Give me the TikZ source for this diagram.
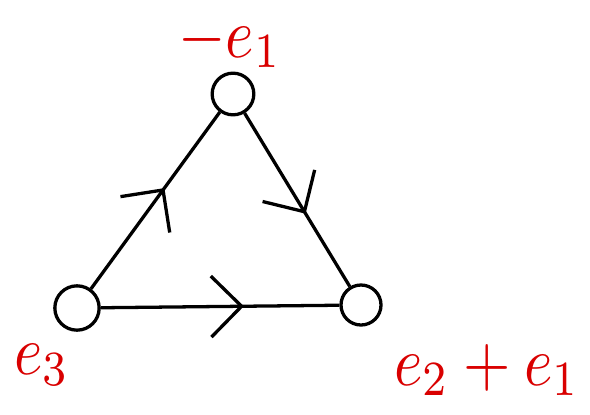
\documentclass[tikz,border=0pt]{standalone}
\usepackage{graphicx}
\usetikzlibrary{arrows.meta,decorations.markings}
\tikzset{
  vert/.style={draw, circle, line width=2.8pt, minimum size=1.25cm, inner sep=0pt},
  edge/.style={line width=2.8pt, postaction={decorate},
    decoration={markings, mark=at position #1 with {\arrow{Straight Barb[length=26pt, width=52pt, line width=2.8pt]}}}},
  edge/.default=0.55,
  lbl/.style={red!85!black, inner sep=0pt}
}
\newcommand{\biglbl}[1]{\scalebox{5.2}[6]{$#1$}}
\begin{document}
\begin{tikzpicture}[x=0.03cm, y=-0.03cm]
  \useasboundingbox (0,0) rectangle (590,414);
  % vertices
  \node[vert] (top) at (233,94) {};
  \node[vert, minimum size=1.33cm] (left) at (77,308) {};
  \node[vert, minimum size=1.2cm] (right) at (361,305) {};

  % labels
  \node[lbl] (ltop) at (230,42) {\biglbl{-e_1}};
  \node[lbl] (lleft) at (42,365) {\biglbl{e_3}};
  \node[lbl] (lright) at (487,370) {\biglbl{e_2+e_1}};

  % edges
  \draw[edge=0.57] (left) -- (top);
  \draw[edge=0.58] (top) -- (right);
  \draw[edge=0.6] (left) -- (right);
\end{tikzpicture}
\end{document}
